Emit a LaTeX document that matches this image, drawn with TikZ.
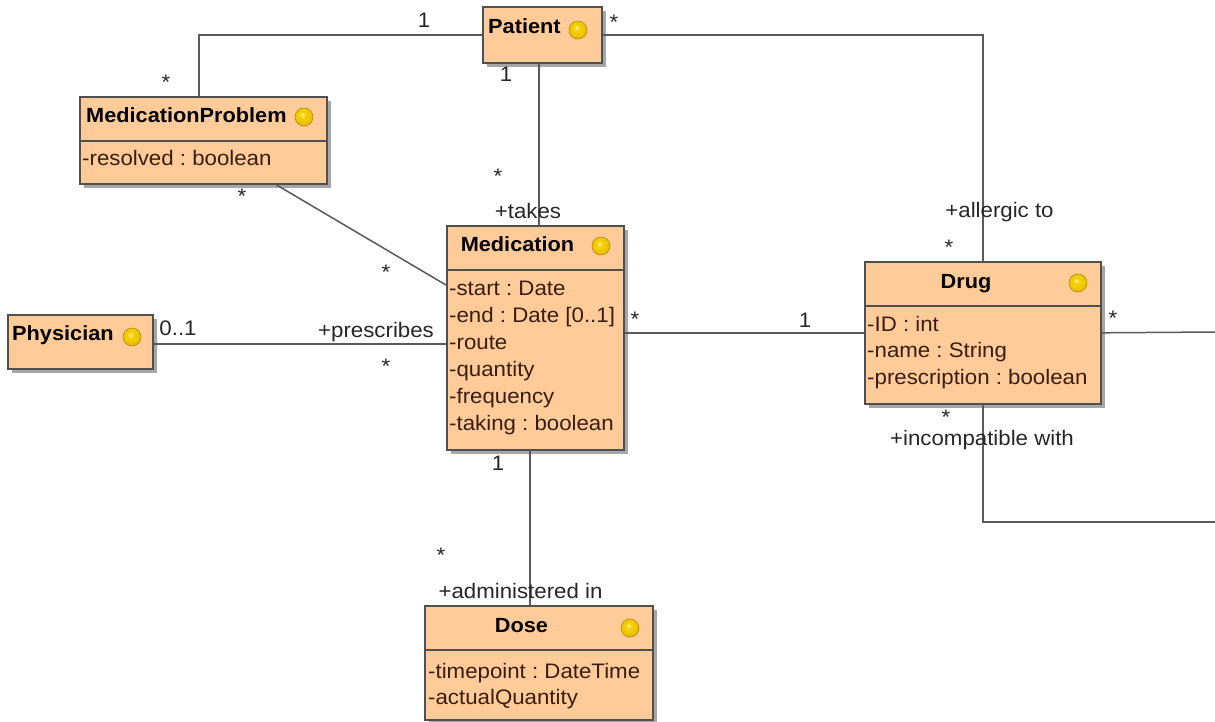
\documentclass[tikz,border=0pt]{standalone}
\usepackage{fontspec}
\setmainfont{Liberation Sans}[FakeStretch=1.06]
\usetikzlibrary{shadows}
\definecolor{clsfill}{HTML}{FFCC99}
\definecolor{clsline}{HTML}{505050}
\definecolor{attrcol}{HTML}{3A1D12}
\definecolor{conncol}{HTML}{5A5A5A}
\definecolor{lblcol}{HTML}{262626}
\definecolor{ballmid}{HTML}{F5D000}
\definecolor{ballrim}{HTML}{D9A400}
\definecolor{balledge}{HTML}{B58A10}
\pgfdeclareradialshading{icoball}{\pgfpoint{-5bp}{7bp}}{%
  color(0bp)=(white!60!ballmid); color(9bp)=(ballmid); color(22bp)=(ballmid!70!ballrim);
  color(30bp)=(ballrim); color(50bp)=(ballrim)}
\tikzset{
  cls/.style={draw=clsline, line width=1.6pt, fill=clsfill, anchor=north west, inner sep=0pt,
    drop shadow={shadow xshift=4pt, shadow yshift=-4pt, fill=black!35, opacity=1}},
  divider/.style={draw=clsline, line width=1.4pt},
  ttl/.style={font=\fontsize{20.5}{24}\selectfont\bfseries, text=black, inner sep=0pt},
  attr/.style={font=\fontsize{21}{24}\selectfont, text=attrcol, anchor=base west, inner sep=0pt},
  lbl/.style={font=\fontsize{21}{24}\selectfont, text=lblcol, anchor=base, inner sep=0pt},
  icon/.style={circle, minimum size=18pt, inner sep=0pt, shading=icoball, draw=balledge, line width=0.6pt},
  conn/.style={draw=conncol, line width=1.5pt},
}
\newcommand{\clsbox}[5]{\node[cls, minimum width={#4-#2}, minimum height={#5-#3}] (#1) at (#2,#3) {};}
\begin{document}
\frenchspacing
\begin{tikzpicture}[x=1pt,y=-1pt]
\useasboundingbox (0,0) rectangle (1215,721);
\fill[white] (0,0) rectangle (1215,721);

% class boxes
\clsbox{pat}{482}{6}{601}{62}
\clsbox{mp}{79}{96}{326}{183}
\clsbox{med}{446}{225}{623}{449}
\clsbox{drug}{864}{261}{1100}{403}
\clsbox{dose}{424}{605}{652}{719}
\clsbox{phys}{7}{314}{152}{368}

% dividers
\draw[divider] ([yshift=-45pt]mp.north west) -- ([yshift=-45pt]mp.north east);
\draw[divider] ([yshift=-45pt]med.north west) -- ([yshift=-45pt]med.north east);
\draw[divider] ([yshift=-45pt]drug.north west) -- ([yshift=-45pt]drug.north east);
\draw[divider] ([yshift=-45pt]dose.north west) -- ([yshift=-45pt]dose.north east);

% titles
\node[ttl, anchor=base west] (patT) at (488,33) {Patient};
\node[ttl, anchor=base west] (mpT) at (86,122) {MedicationProblem};
\node[ttl, anchor=base] (medT) at (517.5,251) {Medication};
\node[ttl, anchor=base] (drugT) at (966,288) {Drug};
\node[ttl, anchor=base] (doseT) at (521.5,632) {Dose};
\node[ttl, anchor=base west] (physT) at (12,340) {Physician};

% icons
\node[icon] (patI) at (578,30) {};
\node[icon] (mpI) at (304,117) {};
\node[icon] (medI) at (601,246) {};
\node[icon] (drugI) at (1078,283) {};
\node[icon] (doseI) at (630,628) {};
\node[icon] (physI) at (132,337) {};

% attributes
\node[attr] (mpA1) at (82,165) {-resolved : boolean};
\node[attr] (medA1) at (449,295) {-start : Date};
\node[attr] (medA2) at (449,322) {-end : Date [0..1]};
\node[attr] (medA3) at (449,349) {-route};
\node[attr] (medA4) at (449,376) {-quantity};
\node[attr] (medA5) at (449,403) {-frequency};
\node[attr] (medA6) at (449,430) {-taking : boolean};
\node[attr] (drugA1) at (867,331) {-ID : int};
\node[attr] (drugA2) at (867,357.5) {-name : String};
\node[attr] (drugA3) at (867,384) {-prescription : boolean};
\node[attr] (doseA1) at (428,678) {-timepoint : DateTime};
\node[attr] (doseA2) at (428,704) {-actualQuantity};

% connectors
\coordinate (r1) at (1216,332);
\coordinate (r2) at (1216,522);
\draw[conn] (pat.west) -| ([xshift=-4.5pt]mp.north);
\draw[conn] (pat.east) -| (drug.north);
\draw[conn] ([xshift=-3.5pt]pat.south) -- ([xshift=3.5pt]med.north);
\draw[conn] ([xshift=197pt]mp.south west) -- ([yshift=-60pt]med.north west);
\draw[conn] ([yshift=-2pt]phys.east) -- ([yshift=-2pt]phys.east -| med.west);
\draw[conn] (drug.west -| med.east) -- (drug.west);
\draw[conn] ([xshift=-5.5pt]med.south) -- ([xshift=-9pt]dose.north);
\draw[conn] (drug.east) -- (r1);
\draw[conn] (drug.south) |- (r2);

% association end labels
\node[lbl] (l1) at (424,27) {1};
\node[lbl] (l2) at (166,89.5) {*};
\node[lbl] (l3) at (614,29.5) {*};
\node[lbl] (l4) at (506,81) {1};
\node[lbl] (l5) at (498,183.5) {*};
\node[lbl] (l6) at (528,218) {+takes};
\node[lbl] (l7) at (242,203.5) {*};
\node[lbl] (l8) at (386,279.5) {*};
\node[lbl] (l9) at (178,335) {0..1};
\node[lbl] (l10) at (376,337) {+prescribes};
\node[lbl] (l11) at (386,373.5) {*};
\node[lbl] (l12) at (635,326.5) {*};
\node[lbl] (l13) at (805,327) {1};
\node[lbl] (l14) at (999.5,217) {+allergic to};
\node[lbl] (l15) at (949,254.5) {*};
\node[lbl] (l16) at (1113,325.5) {*};
\node[lbl] (l17) at (946,424.5) {*};
\node[lbl] (l18) at (982,445) {+incompatible with};
\node[lbl] (l19) at (498,470) {1};
\node[lbl] (l20) at (441,562.5) {*};
\node[lbl] (l21) at (520.5,598) {+administered in};
\end{tikzpicture}
\end{document}
